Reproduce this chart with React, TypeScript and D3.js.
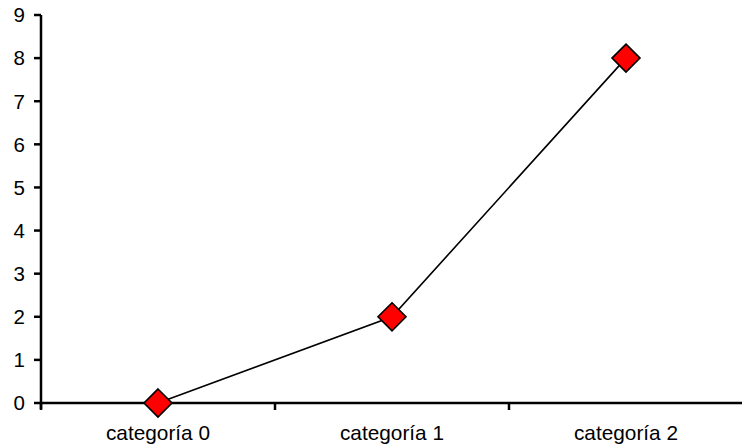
import React from "react";
import * as d3 from "d3";

const categories = ["categoría 0", "categoría 1", "categoría 2"];
const values = [0, 2, 8];
const yTicks = [0, 1, 2, 3, 4, 5, 6, 7, 8, 9];

const W = 742;
const H = 448;
const left = 41;
const right = 743;
const top = 15;
const bottom = 403;
const FONT = "'Liberation Sans', Arial, sans-serif";

export default function App() {
  const x = d3.scaleBand<string>().domain(categories).range([left, right]).paddingInner(0).paddingOuter(0);
  const y = d3.scaleLinear().domain([0, 9]).range([bottom, top]);
  const line = d3
    .line<number>()
    .x((_, i) => (x(categories[i]) as number) + x.bandwidth() / 2)
    .y((d) => y(d));
  const r = 14;
  const bandTicks = categories.map((c) => x(c) as number);
  return (
    <svg
      width={W}
      height={H}
      style={{ position: "absolute", left: 0, top: 0, background: "#fff" }}
      fontFamily={FONT}
    >
      {/* y axis */}
      <line x1={left} y1={top} x2={left} y2={bottom + 6} stroke="#000" strokeWidth={2.5} />
      {yTicks.map((t) => (
        <g key={t}>
          <line x1={left - 7} x2={left} y1={y(t)} y2={y(t)} stroke="#000" strokeWidth={2.5} />
          <text x={left - 16} y={y(t)} dy="0.36em" textAnchor="end" fontSize={20.5} fill="#000">
            {t}
          </text>
        </g>
      ))}
      {/* x axis */}
      <line x1={left} y1={bottom} x2={W} y2={bottom} stroke="#000" strokeWidth={2.5} />
      {bandTicks.map((bx, i) => (
        <line key={i} x1={bx} x2={bx} y1={bottom} y2={bottom + 7} stroke="#000" strokeWidth={2.5} />
      ))}
      {categories.map((c) => (
        <text
          key={c}
          x={(x(c) as number) + x.bandwidth() / 2}
          y={440}
          textAnchor="middle"
          fontSize={20.8}
          fill="#000"
        >
          {c}
        </text>
      ))}
      <path d={line(values) || ""} fill="none" stroke="#000" strokeWidth={1.6} />
      {values.map((v, i) => {
        const cx = (x(categories[i]) as number) + x.bandwidth() / 2;
        const cy = y(v);
        return (
          <path
            key={i}
            d={`M${cx},${cy - r}L${cx + r},${cy}L${cx},${cy + r}L${cx - r},${cy}Z`}
            fill="#ff0000"
            stroke="#000"
            strokeWidth={1.6}
          />
        );
      })}
    </svg>
  );
}
